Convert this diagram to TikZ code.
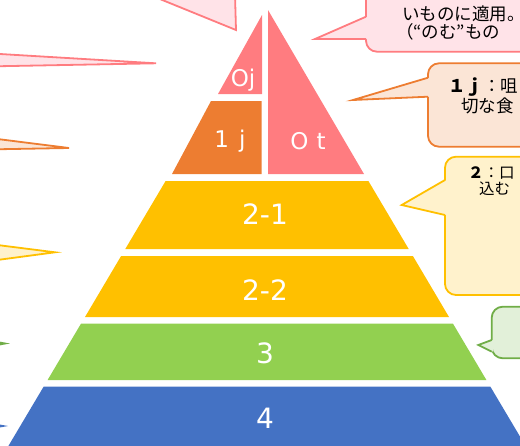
\documentclass[tikz,border=0pt]{standalone}
\usepackage{fontspec}
\setmainfont{Noto Sans CJK JP}
\newfontfamily\tierfont{DejaVu Sans}
\usetikzlibrary{positioning}
\definecolor{pinkline}{HTML}{FF7C80}
\definecolor{pinkfill}{HTML}{FFE3E8}
\definecolor{orangeline}{HTML}{ED7D31}
\definecolor{orangefill}{HTML}{FBE5D6}
\definecolor{yellowline}{HTML}{FFC000}
\definecolor{yellowfill}{HTML}{FFF2CC}
\definecolor{greentier}{HTML}{92D050}
\definecolor{greenline}{HTML}{70AD47}
\definecolor{greenfill}{HTML}{E2F0D9}
\definecolor{bluetier}{HTML}{4472C4}

\begin{document}
\begin{tikzpicture}[x=1pt,y=-1pt,
  tierlabel/.style={text=white,inner sep=0pt,font=\tierfont\fontsize{28}{28}\selectfont},
  toplabel/.style={text=white,inner sep=0pt,font=\tierfont\fontsize{23}{23}\selectfont},
  bubble/.style={line width=1.8pt,rounded corners=11pt},
  wedge/.style={line width=1.8pt,line join=miter},
  bubbletext/.style={inner sep=0pt,anchor=west,font=\fontsize{17.5}{17.5}\selectfont}]
\useasboundingbox (0,0) rectangle (520,445);
\clip (0,0) rectangle (520,445);
% pyramid tiers
\fill[pinkline] (262,15) -- (262,94) -- (218,94) -- cycle;
\fill[pinkline] (268,10) -- (268,174) -- (364,174) -- cycle;
\fill[orangeline] (211,101) -- (261.5,101) -- (261.5,174) -- (172,174) -- cycle;
\fill[yellowline] (165.6,181) -- (368.4,181) -- (408.7,249) -- (125.3,249) -- cycle;
\fill[yellowline] (121.1,256) -- (412.9,256) -- (449,317) -- (85,317) -- cycle;
\fill[greentier] (81.1,323.5) -- (452.9,323.5) -- (486.4,380) -- (47.6,380) -- cycle;
\fill[bluetier] (43.6,386.7) -- (490.4,386.7) -- (528,450) -- (6,450) -- cycle;
\node[toplabel] (lblOj) at (243,80) {Oj};
\node[toplabel] (lbl1j) at (230,141) {1\hspace{10pt}j};
\node[toplabel] (lblOt) at (308,141) {O\hspace{8pt}t};
\node[tierlabel] (lbl21) at (265,214) {2-1};
\node[tierlabel] (lbl22) at (265,290) {2-2};
\node[tierlabel] (lbl3) at (265,353) {3};
\node[tierlabel] (lbl4) at (265,418) {4};
% pointers of the callouts on the left (bodies off the page)
\filldraw[wedge,draw=pinkline,fill=pinkfill] (150,-5) -- (236,30) -- (235,-5);
\filldraw[wedge,draw=pinkline,fill=pinkfill] (-5,53.7) -- (156,63.3) -- (-5,66.3);
\filldraw[wedge,draw=orangeline,fill=orangefill] (-5,138.7) -- (69,148) -- (-5,149.3);
\filldraw[wedge,draw=yellowline,fill=yellowfill] (-5,244.7) -- (55,252.3) -- (-5,260.3);
\filldraw[wedge,draw=greenline,fill=greenfill] (-30,337) -- (5,343.5) -- (-30,350);
\filldraw[wedge,draw=bluetier,fill=bluetier!20] (-30,420) -- (3,426) -- (-30,432);
% callouts on the right
\filldraw[bubble,draw=pinkline,fill=pinkfill] (366,-20) rectangle (545,51.7);
\fill[pinkfill] (367.5,16.7) -- (315,39) -- (367.5,39) -- cycle;
\draw[wedge,draw=pinkline] (366,16.7) -- (315,39) -- (366,39);
\node[bubbletext] (txtOt1) at (402,14) {いものに適用。};
\node[bubbletext] (txtOt2) at (396,32) {（“のむ”もの};
\filldraw[bubble,draw=orangeline,fill=orangefill] (428,63.3) rectangle (545,146.7);
\fill[orangefill] (429.5,77.7) -- (353,100) -- (429.5,96.7) -- cycle;
\draw[wedge,draw=orangeline] (428,77.7) -- (353,100) -- (428,96.7);
\node[bubbletext] (txt1j1) at (448,86.7) {\textbf{１ｊ}：咀};
\node[bubbletext] (txt1j2) at (461,105.5) {切な食};
\filldraw[bubble,draw=yellowline,fill=yellowfill] (445,156.7) rectangle (545,295);
\fill[yellowfill] (446.5,180) -- (401.7,205) -- (446.5,215) -- cycle;
\draw[wedge,draw=yellowline] (445,180) -- (401.7,205) -- (445,215);
\node[bubbletext,font=\fontsize{15.5}{15.5}\selectfont] (txt2a) at (468,173.3) {\textbf{２}：口};
\node[bubbletext,font=\fontsize{15.5}{15.5}\selectfont] (txt2b) at (479,189) {込む};
\filldraw[bubble,draw=greenline,fill=greenfill] (491.7,306.7) rectangle (545,358.3);
\fill[greenfill] (493.2,340) -- (478.3,345) -- (493.2,351.7) -- cycle;
\draw[wedge,draw=greenline] (491.7,340) -- (478.3,345) -- (491.7,351.7);
\end{tikzpicture}
\end{document}
